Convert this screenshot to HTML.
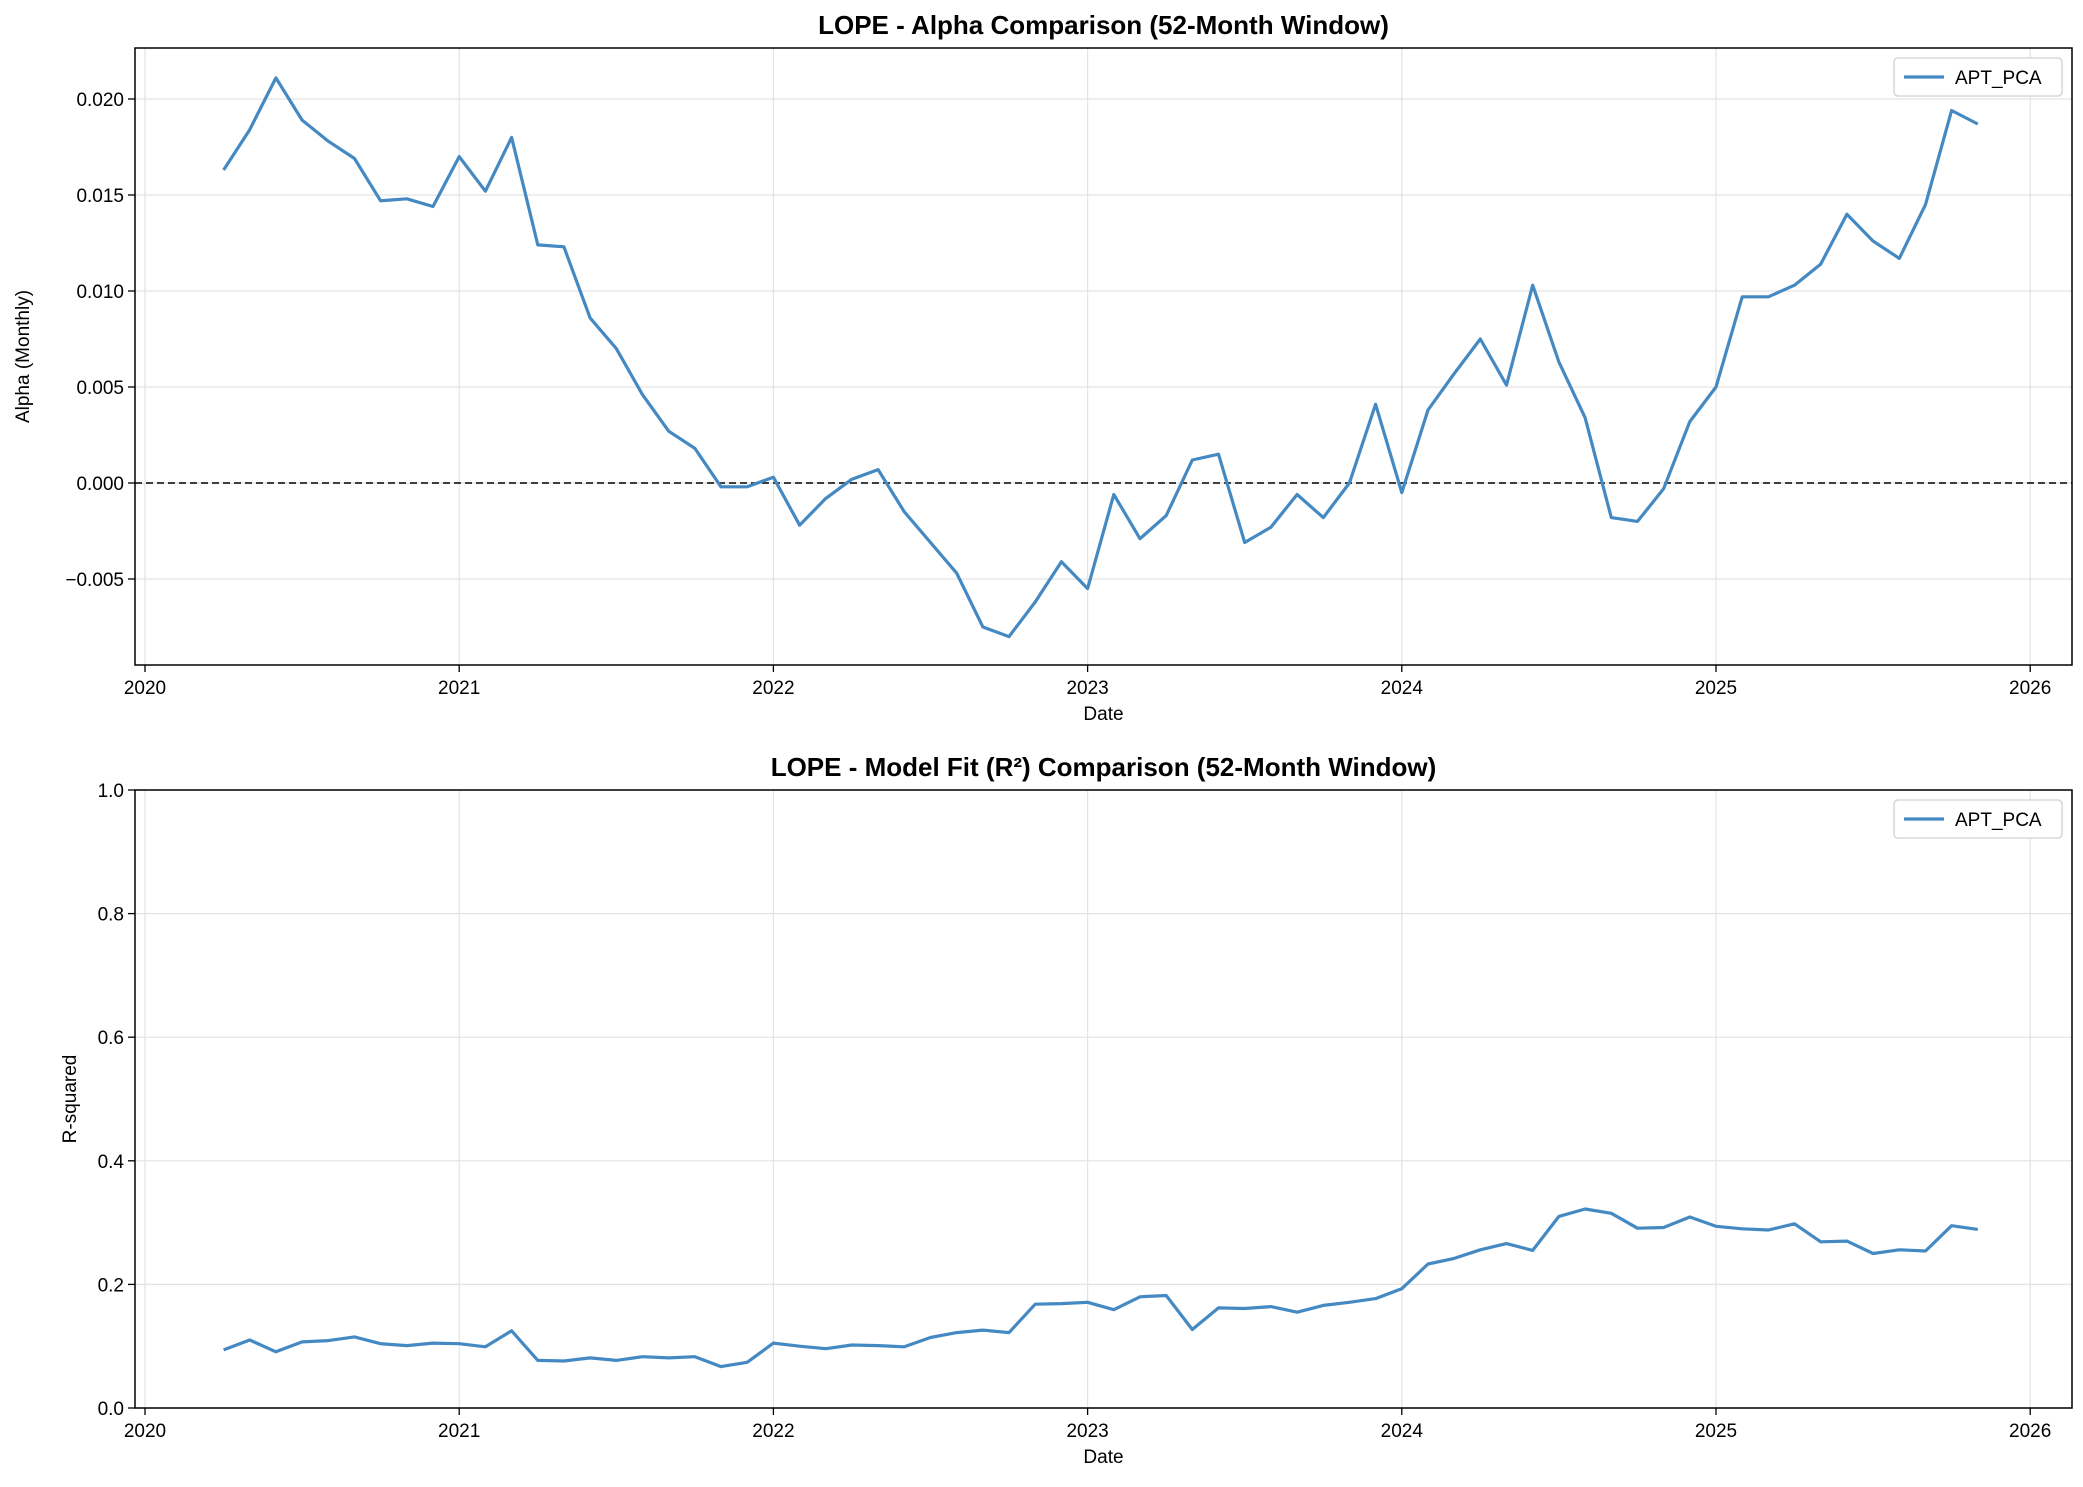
<!DOCTYPE html>
<html><head><meta charset="utf-8"><style>
body{margin:0;background:#fff;}
svg text{font-family:"Liberation Sans","DejaVu Sans",sans-serif;fill:#000;}
</style></head><body>
<svg id="chart" width="2083" height="1482" xmlns="http://www.w3.org/2000/svg"></svg>
<script>
const alphaValues=[0.0163,0.0184,0.0211,0.0189,0.0178,0.0169,0.0147,0.0148,0.0144,0.0170,0.0152,0.0180,0.0124,0.0123,0.0086,0.0070,0.0046,0.0027,0.0018,-0.0002,-0.0002,0.0003,-0.0022,-0.0008,0.0002,0.0007,-0.0015,-0.0031,-0.0047,-0.0075,-0.0080,-0.0062,-0.0041,-0.0055,-0.0006,-0.0029,-0.0017,0.0012,0.0015,-0.0031,-0.0023,-0.0006,-0.0018,0.0000,0.0041,-0.0005,0.0038,0.0057,0.0075,0.0051,0.0103,0.0063,0.0034,-0.0018,-0.0020,-0.0003,0.0032,0.0050,0.0097,0.0097,0.0103,0.0114,0.0140,0.0126,0.0117,0.0145,0.0194,0.0187];
const r2Values=[0.094,0.110,0.091,0.107,0.109,0.115,0.104,0.101,0.105,0.104,0.099,0.125,0.077,0.076,0.081,0.077,0.083,0.081,0.083,0.067,0.074,0.105,0.100,0.096,0.102,0.101,0.099,0.114,0.122,0.126,0.122,0.168,0.169,0.171,0.159,0.180,0.182,0.127,0.162,0.161,0.164,0.155,0.166,0.171,0.177,0.193,0.233,0.242,0.256,0.266,0.255,0.310,0.322,0.315,0.291,0.292,0.309,0.294,0.290,0.288,0.298,0.269,0.270,0.250,0.256,0.254,0.295,0.289];
const startMonthOffset=3; // first point: end of March 2020
const xTickYears=[2020,2021,2022,2023,2024,2025,2026];
const alphaTicks=[-0.005,0.000,0.005,0.010,0.015,0.020];
const alphaTickLabels=["\u22120.005","0.000","0.005","0.010","0.015","0.020"];
const r2Ticks=[0,0.2,0.4,0.6,0.8,1.0];
const r2TickLabels=["0.0","0.2","0.4","0.6","0.8","1.0"];

const svg=document.getElementById('chart');
const NS="http://www.w3.org/2000/svg";
function mk(tag,attrs,name,parent){const e=document.createElementNS(NS,tag);for(const k in attrs)e.setAttribute(k,attrs[k]);


(parent||svg).appendChild(e);return e;}
function txt(s,attrs,name,parent){const e=mk('text',attrs,name,parent);e.textContent=s;return e;}

const L=135,R=2072;
const xScale=t=>145+(t-2020)*314.2;
const color="#4589c3";

function panel(cfg){
  const g=mk('g',{},cfg.name);
  const {top,bot,y}=cfg;
  // grid
  xTickYears.forEach(yr=>{const x=xScale(yr);
    mk('line',{x1:x,x2:x,y1:top,y2:bot,stroke:"#e3e3e3","stroke-width":1.2},'x-grid-line',g);});
  cfg.ticks.forEach(v=>{const yy=y(v);
    mk('line',{x1:L,x2:R,y1:yy,y2:yy,stroke:"#e3e3e3","stroke-width":1.2},'y-grid-line',g);});
  if(cfg.zero){mk('line',{x1:L,x2:R,y1:y(0),y2:y(0),stroke:"#000","stroke-width":1.6,"stroke-dasharray":"7,4"},'zero-line',g);}
  // series
  const pts=cfg.values.map((v,i)=>xScale(2020+(i+startMonthOffset)/12).toFixed(1)+","+y(v).toFixed(1)).join(" ");
  mk('polyline',{points:pts,fill:"none",stroke:color,"stroke-width":3.2,"stroke-linejoin":"round"},'apt-pca-line',g);
  // frame
  mk('rect',{x:L,y:top,width:R-L,height:bot-top,fill:"none",stroke:"#000","stroke-width":1.5},'axes-frame',g);
  // x ticks
  xTickYears.forEach(yr=>{const x=xScale(yr);
    mk('line',{x1:x,x2:x,y1:bot,y2:bot+7,stroke:"#000","stroke-width":1.3},'x-tick',g);
    txt(String(yr),{x:x,y:bot+29,"font-size":19,"text-anchor":"middle"},'x-tick-label',g);});
  cfg.ticks.forEach((v,i)=>{const yy=y(v);
    mk('line',{x1:L-7,x2:L,y1:yy,y2:yy,stroke:"#000","stroke-width":1.3},'y-tick',g);
    txt(cfg.labels[i],{x:L-11,y:yy+7,"font-size":19,"text-anchor":"end"},'y-tick-label',g);});
  txt("Date",{x:(L+R)/2,y:bot+55,"font-size":19,"text-anchor":"middle"},'x-axis-title',g);
  txt(cfg.ylabel,{x:0,y:0,"font-size":19,"text-anchor":"middle",transform:`translate(${cfg.ylx},${(top+bot)/2}) rotate(-90)`},'y-axis-title',g);
  txt(cfg.title,{x:(L+R)/2,y:top-14,"font-size":26,"font-weight":"bold","text-anchor":"middle"},'chart-title',g);
  // legend
  const lg=mk('g',{},'legend',g);
  mk('rect',{x:1894,y:top+10,width:168,height:38,rx:4,fill:"#fff",stroke:"#d0d0d0","stroke-width":1.3},'legend-box',lg);
  mk('line',{x1:1904,x2:1944,y1:top+29,y2:top+29,stroke:color,"stroke-width":3.2},'legend-swatch',lg);
  txt("APT_PCA",{x:1955,y:top+36,"font-size":19},'legend-label',lg);
}
panel({name:'alpha-panel',top:48,bot:665,y:v=>483-v*19200,ticks:alphaTicks,labels:alphaTickLabels,zero:true,
  ylabel:"Alpha (Monthly)",ylx:29,title:"LOPE - Alpha Comparison (52-Month Window)",values:alphaValues});
panel({name:'r2-panel',top:790,bot:1408,y:v=>1408-v*618,ticks:r2Ticks,labels:r2TickLabels,zero:false,
  ylabel:"R-squared",ylx:76,title:"LOPE - Model Fit (R\u00b2) Comparison (52-Month Window)",values:r2Values});
</script>
</body></html>
